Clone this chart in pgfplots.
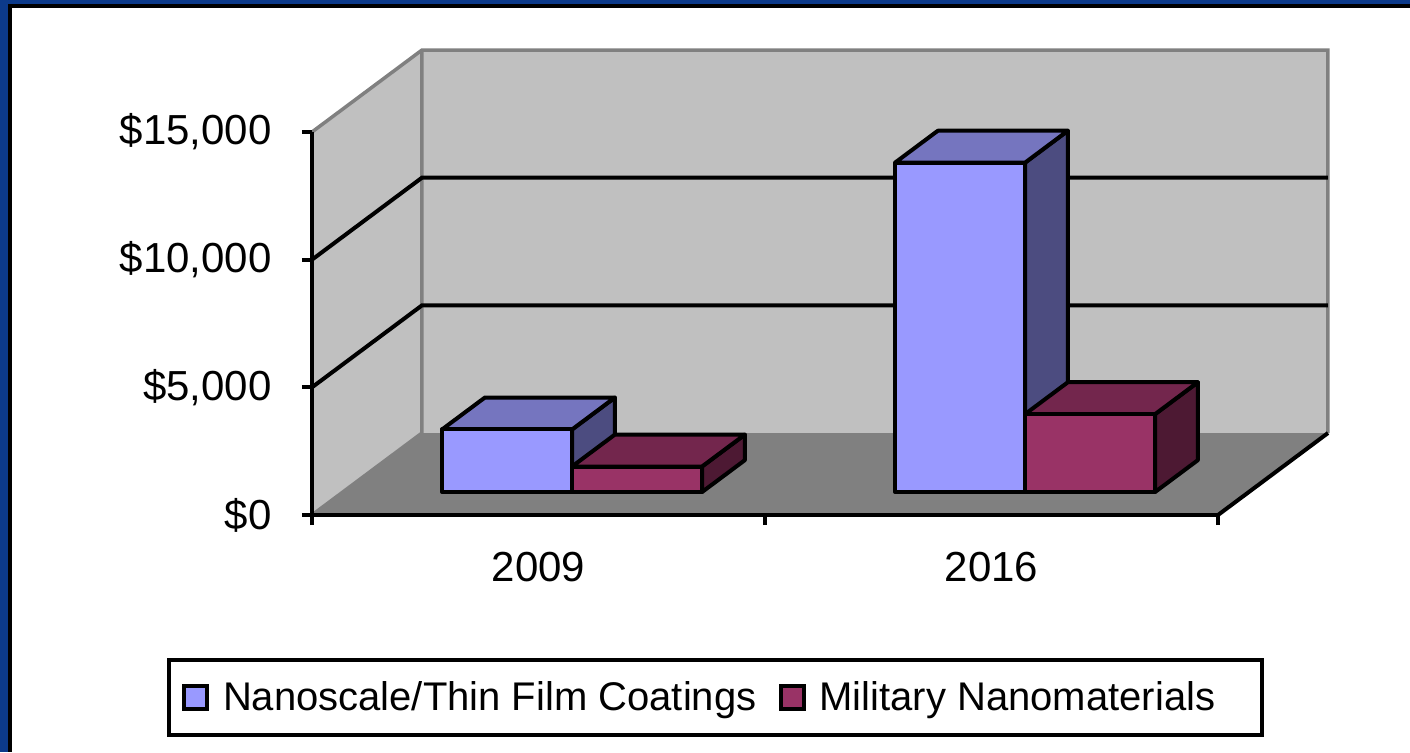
\documentclass[border=0pt]{standalone}
\usepackage{fontspec}
\setmainfont{Liberation Sans}
\usepackage{pgfplots}
\pgfplotsset{compat=1.18}
\definecolor{frameblue}{RGB}{12,58,138}
\definecolor{wall}{RGB}{192,192,192}
\definecolor{walledge}{RGB}{128,128,128}
\definecolor{floorc}{RGB}{128,128,128}
\definecolor{nanofront}{RGB}{153,153,255}
\definecolor{nanotop}{RGB}{117,117,191}
\definecolor{nanoside}{RGB}{76,76,128}
\definecolor{milfront}{RGB}{153,51,102}
\definecolor{miltop}{RGB}{115,38,77}
\definecolor{milside}{RGB}{77,25,51}
% depth geometry (axis units: x category units, y dollars)
\def\FX{0.068}\def\FY{899}\def\BX{0.0947}\def\BY{1252}\def\BW{0.287}
% #1 left x on front plane, #2 value, #3 front, #4 top, #5 side colour
\newcommand{\barthreed}[5]{%
  \pgfmathsetmacro{\xa}{#1+\FX}%
  \pgfmathsetmacro{\xb}{#1+\BW+\FX}%
  \pgfmathsetmacro{\xc}{#1+\FX+\BX}%
  \pgfmathsetmacro{\xd}{#1+\BW+\FX+\BX}%
  \pgfmathsetmacro{\ya}{\FY}%
  \pgfmathsetmacro{\yb}{\FY+#2}%
  \pgfmathsetmacro{\yc}{\FY+\BY}%
  \pgfmathsetmacro{\yd}{\FY+#2+\BY}%
  \edef\tmpplot{%
    \noexpand\addplot[forget plot, draw=black, line width=2pt, line join=round, fill=#5] coordinates {(\xb,\ya) (\xd,\yc) (\xd,\yd) (\xb,\yb)} --cycle;
    \noexpand\addplot[forget plot, draw=black, line width=2pt, line join=round, fill=#4] coordinates {(\xa,\yb) (\xb,\yb) (\xd,\yd) (\xc,\yd)} --cycle;
    \noexpand\addplot[forget plot, draw=black, line width=2pt, line join=round, fill=#3] coordinates {(\xa,\ya) (\xb,\ya) (\xb,\yb) (\xa,\yb)} --cycle;
  }\tmpplot
}
\begin{document}
\begin{tikzpicture}
\fill[frameblue] (-156pt,257.5pt) rectangle (549pt,-118.5pt);
\fill[black] (-152pt,255.5pt) rectangle (549pt,-118.5pt);
\fill[white] (-150pt,253.5pt) rectangle (549pt,-118.5pt);
\begin{axis}[
  at={(0,0)}, anchor=south west,
  scale only axis, width=453pt, height=191.5pt,
  xmin=0, xmax=2, ymin=0, ymax=15000,
  clip=false, axis on top,
  axis lines*=left,
  axis line style={line width=2pt, black},
  xtick={0,1,2}, xticklabels={2009,2016}, x tick label as interval,
  ytick={0,5000,10000,15000}, scaled y ticks=false,
  yticklabels={{\$0},{\$5,000},{\$10,000},{\$15,000}},
  tick align=outside, major tick length=5pt,
  tick style={black, line width=2pt},
  tick label style={font=\fontsize{21pt}{25pt}\selectfont},
  yticklabel style={inner sep=0pt, xshift=-15pt},
  xticklabel style={inner sep=0pt, yshift=-13.5pt},
  legend columns=2,
  legend style={at={(-0.16,-0.4765)}, anchor=west, draw=black, line width=2pt,
    font=\fontsize{20pt}{24pt}\selectfont, inner xsep=6.5pt, inner ysep=8.75pt,
    /tikz/every odd column/.append style={column sep=5pt},
    /tikz/every even column/.append style={column sep=9pt}},
]
\addlegendimage{legend image code/.code={\draw[fill=nanofront, line width=2pt] (0pt,-5.75pt) rectangle (11.5pt,5.75pt);}}
\addlegendentry{Nanoscale/Thin Film Coatings}
\addlegendimage{legend image code/.code={\draw[fill=milfront, line width=2pt] (0pt,-5.75pt) rectangle (11.5pt,5.75pt);}}
\addlegendentry{Military Nanomaterials\kern15pt}
% side wall, back wall, floor
\addplot[forget plot, fill=wall, draw=none] coordinates {(0,0) (0,15000) (0.2428,18211) (0.2428,3211)} --cycle;
\addplot[forget plot, fill=wall, draw=none] coordinates {(0.2428,3211) (2.2428,3211) (2.2428,18211) (0.2428,18211)} --cycle;
\addplot[forget plot, fill=floorc, draw=none] coordinates {(0,0) (2,0) (2.2428,3211) (0.2428,3211)} --cycle;
% wall edges
\addplot[forget plot, draw=walledge, line width=1.75pt] coordinates {(0,15000) (0.2428,18211) (2.2428,18211) (2.2428,3211)};
\addplot[forget plot, draw=walledge, line width=1.75pt] coordinates {(0.2428,18211) (0.2428,3211) (0,0)};
% gridlines
\addplot[forget plot, draw=black, line width=2pt] coordinates {(0,5000) (0.2428,8211) (2.2428,8211)};
\addplot[forget plot, draw=black, line width=2pt] coordinates {(0,10000) (0.2428,13211) (2.2428,13211)};
% floor right edge
\addplot[forget plot, draw=black, line width=2pt] coordinates {(2,0) (2.2428,3211)};
% bars: 2009
\barthreed{0.219}{2450}{nanofront}{nanotop}{nanoside}
\barthreed{0.506}{1000}{milfront}{miltop}{milside}
% bars: 2016
\barthreed{1.219}{12900}{nanofront}{nanotop}{nanoside}
\barthreed{1.506}{3050}{milfront}{miltop}{milside}
\end{axis}
\pgfresetboundingbox
\useasboundingbox (-156pt,257.5pt) rectangle (549pt,-118.5pt);
\end{tikzpicture}
\end{document}
